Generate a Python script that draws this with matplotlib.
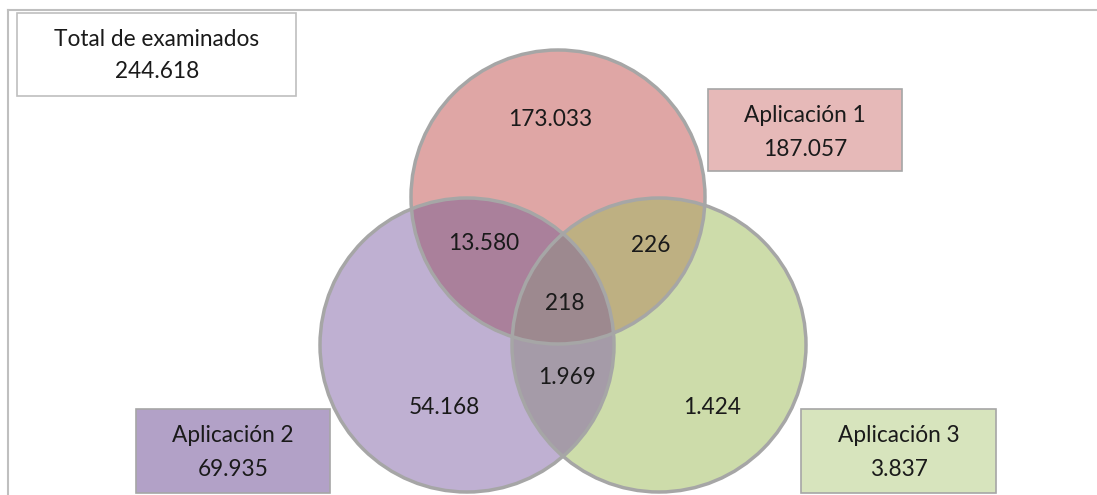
import matplotlib.pyplot as plt
from matplotlib.patches import Circle, Rectangle, Polygon
import numpy as np

# 集合の値
set_names = ['Aplicación 1', 'Aplicación 2', 'Aplicación 3']
set_totals = ['187.057', '69.935', '3.837']
total_label = 'Total de examinados'
total_value = '244.618'
# 領域ごとの値: A only, B only, C only, AB, AC, BC, ABC
region_keys = ['A', 'B', 'C', 'AB', 'AC', 'BC', 'ABC']
region_values = ['173.033', '54.168', '1.424', '13.580', '226', '1.969', '218']

# レイアウト (ピクセル座標)
centers = {'A': (558, 197), 'B': (467, 345), 'C': (659, 345)}
radius = 147
region_pos = {'A': (550, 119), 'B': (444, 408), 'C': (712, 408),
              'AB': (484, 244), 'AC': (651, 246), 'BC': (567, 378), 'ABC': (565, 304)}
region_colors = {'A': '#dfa6a5', 'B': '#bfb0d2', 'C': '#cddcaa',
                 'AB': '#aa809b', 'AC': '#beb082', 'BC': '#a59ba8', 'ABC': '#9d898f'}
box_specs = [  # x0, y0, x1, y1, face
    (708, 89, 902, 171, '#e6b9b8'),
    (136, 409, 330, 493, '#b2a1c7'),
    (801, 409, 996, 493, '#d7e4bd'),
]

W, H = 1097, 495
fig = plt.figure(figsize=(W / 100, H / 100), dpi=100)
ax = fig.add_axes([0, 0, 1, 1])
ax.set_xlim(0, W)
ax.set_ylim(H, 0)
ax.axis('off')

font = 'Lato'
fs = 16.3

# 枠線
ax.plot([8, W], [10, 10], color='#bfbfbf', lw=1.5)
ax.plot([8, 8], [10, H], color='#bfbfbf', lw=1.5)


def circ(k, color, z):
    c = Circle(centers[k], radius, facecolor=color, edgecolor='none', zorder=z)
    ax.add_patch(c)
    return c


# 単独の円
for k in ['B', 'C', 'A']:
    circ(k, region_colors[k], 1)

# 二重の重なり
for pair in ['AB', 'AC', 'BC']:
    p = circ(pair[0], region_colors[pair], 2)
    clip = Circle(centers[pair[1]], radius, transform=ax.transData)
    p.set_clip_path(clip)

# 三重の重なり: B∩C のレンズを多角形で作る
t = np.linspace(0, 2 * np.pi, 720)
pts = []
for k, other in [('B', 'C'), ('C', 'B')]:
    cx, cy = centers[k]
    ox, oy = centers[other]
    xs = cx + radius * np.cos(t)
    ys = cy + radius * np.sin(t)
    inside = (xs - ox) ** 2 + (ys - oy) ** 2 <= radius ** 2
    pts.append(np.column_stack([xs[inside], ys[inside]]))
pts = np.vstack(pts)
mid = pts.mean(axis=0)
order = np.argsort(np.arctan2(pts[:, 1] - mid[1], pts[:, 0] - mid[0]))
lens = Polygon(pts[order], closed=True, transform=ax.transData)
p = circ('A', region_colors['ABC'], 3)
p.set_clip_path(lens)

# 円の輪郭
for k in ['A', 'B', 'C']:
    ax.add_patch(Circle(centers[k], radius, fill=False, edgecolor='#a6a6a6', lw=2.5, zorder=4))

# 領域の値
for k, v in zip(region_keys, region_values):
    x, y = region_pos[k]
    ax.text(x, y, v, ha='center', va='center', fontsize=fs, family=font, color='#1a1a1a', zorder=5)

# 合計ボックス
ax.add_patch(Rectangle((17, 13), 279, 83, facecolor='white', edgecolor='#bfbfbf', lw=1.2, zorder=4))
ax.text(157, 40, total_label, ha='center', va='center', fontsize=fs, family=font, color='#1a1a1a', zorder=5)
ax.text(157, 71, total_value, ha='center', va='center', fontsize=fs, family=font, color='#1a1a1a', zorder=5)

# 集合ラベルのボックス
for (x0, y0, x1, y1, face), name, tot in zip(box_specs, set_names, set_totals):
    ax.add_patch(Rectangle((x0, y0), x1 - x0, y1 - y0, facecolor=face, edgecolor='#a6a6a6', lw=1.2, zorder=4))
    xc = (x0 + x1) / 2
    ax.text(xc, y0 + 26, name, ha='center', va='center', fontsize=fs, family=font, color='#1a1a1a', zorder=5)
    ax.text(xc, y0 + 60, tot, ha='center', va='center', fontsize=fs, family=font, color='#1a1a1a', zorder=5)

fig.savefig('out.png', dpi=100)
